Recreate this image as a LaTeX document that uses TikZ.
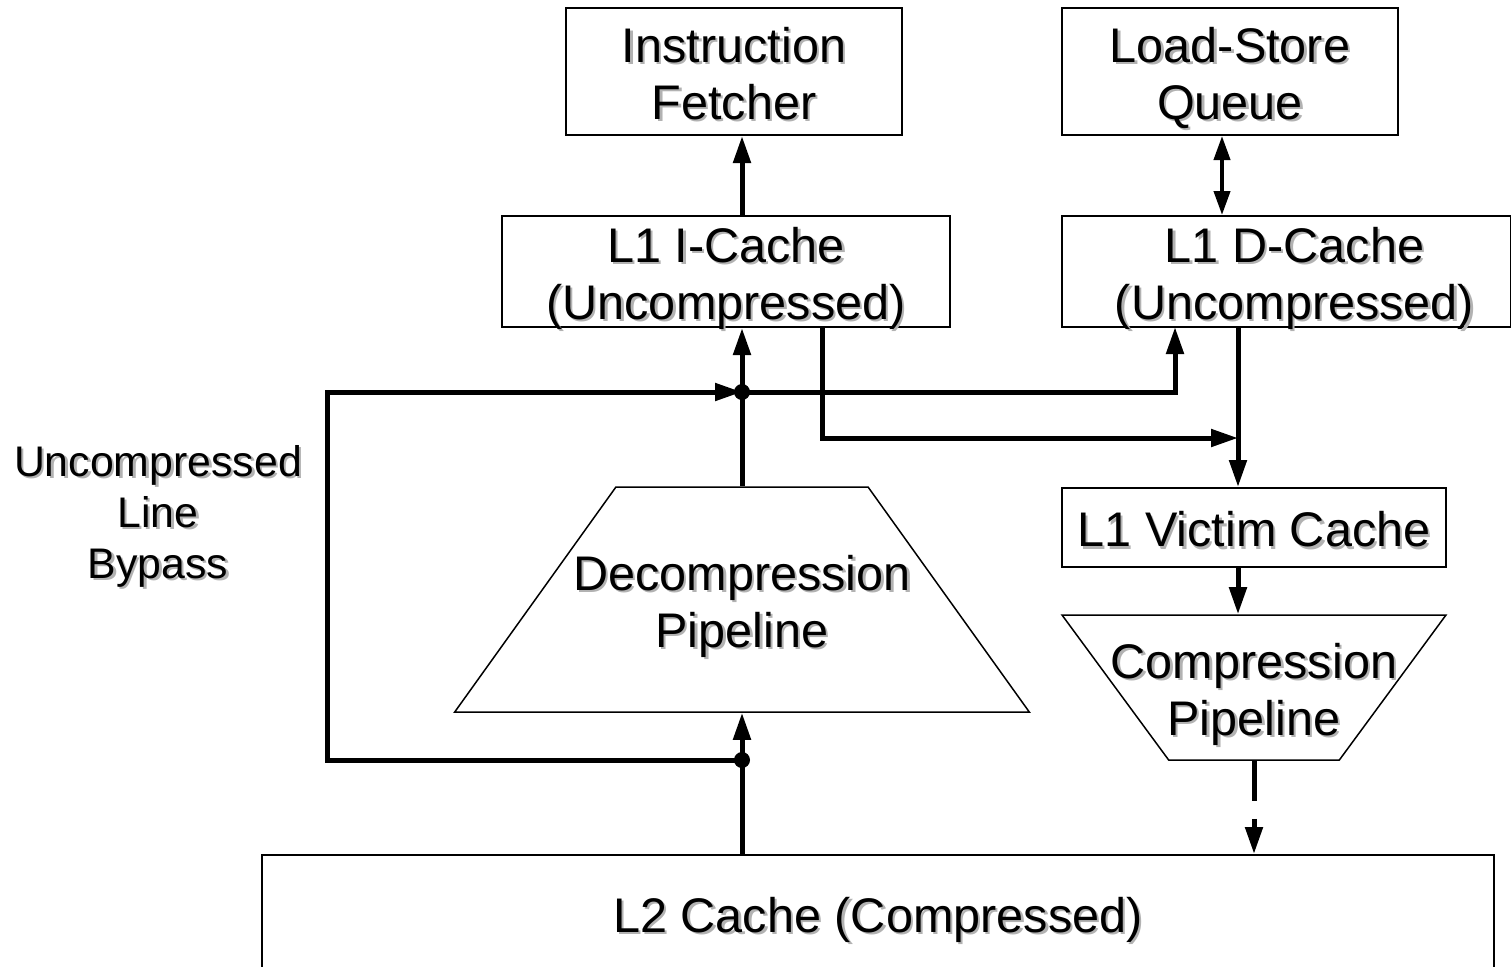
\documentclass[tikz,border=0pt]{standalone}
\usepackage{fontspec}
\setmainfont{Liberation Sans}
\usetikzlibrary{shapes.geometric,arrows.meta}
\newcommand{\shtext}[1]{\raisebox{-0.144em}[0.716em][0.21em]{\rlap{\kern1.2pt\raisebox{-1.2pt}{\color{black!30}#1}}#1}}

\begin{document}
\begin{tikzpicture}[x=0.5pt,y=-0.5pt,
    blk/.style={draw,line width=1pt,align=center,inner sep=0pt,font=\fontsize{24.3}{28.5}\selectfont},
    trap/.style={draw,line width=0.75pt,trapezium,trapezium stretches=true,inner sep=2pt},
    txt/.style={align=center,font=\fontsize{24.3}{28.5}\selectfont},
    bus/.style={line width=2.5pt,-{Triangle[length=13.5pt,width=8.5pt]}},
    dbl/.style={line width=2pt,{Triangle[length=12pt,width=8pt]}-{Triangle[length=12pt,width=8pt]}},
    dot/.style={circle,fill,inner sep=0pt,minimum size=8pt}]

    \useasboundingbox (0,0) rectangle (1511,966);

    \node[blk,minimum width=168pt,minimum height=63.5pt] (fetch) at (734,71.5) {\shtext{Instruction}\\\shtext{Fetcher}};
    \node[blk,minimum width=168pt,minimum height=63.5pt] (lsq) at (1230,71.5) {\shtext{Load-Store}\\\shtext{Queue}};
    \node[blk,minimum width=224pt,minimum height=55.5pt] (icache) at (726,271.5) {\shtext{L1 I-Cache}\\\shtext{(Uncompressed)}};
    \node[blk,minimum width=224.5pt,minimum height=55.5pt] (dcache) at (1286.5,271.5) {\shtext{\hspace{8pt}L1 D-Cache}\\\shtext{\hspace{8pt}(Uncompressed)}};
    \node[blk,minimum width=192pt,minimum height=39.5pt] (victim) at (1254,527.5) {\shtext{L1 Victim Cache}};
    \node[trap,trapezium angle=57.4,minimum width=287.5pt,minimum height=112.5pt,
          label={[txt]center:{\shtext{Decompression}\\\shtext{Pipeline}}}] (decomp) at (742,599.5) {};
    \node[trap,shape border rotate=180,trapezium angle=58,minimum width=192pt,minimum height=72.5pt,
          label={[txt]center:{\shtext{Compression}\\\shtext{Pipeline}}}] (comp) at (1254,687.5) {};
    \node[blk,minimum width=616pt,minimum height=58pt] (l2) at (878,913) {\shtext{L2 Cache (Compressed)}};
    \node[txt,font=\fontsize{21.4}{25.5}\selectfont] (bypasslbl) at (158,510) {\shtext{Uncompressed}\\\shtext{Line}\\\shtext{Bypass}};

    \coordinate (bypass) at (327,392);
    \coordinate (dIn) at (1175,327);
    \coordinate (dOut) at (1238,327);
    \coordinate (iOut) at (822,327);
    \coordinate (merge) at (1238,438);

    \draw [bus] (icache.north -| decomp.north) -- (fetch.south -| decomp.north);
    \draw [dbl] ([xshift=-4pt]lsq.south) -- ([xshift=-4pt]lsq.south |- dcache.north);
    \draw [bus] (decomp.north) -- (decomp.north |- icache.south);
    \draw [bus] (decomp.south |- l2.north) -- (decomp.south);
    \draw [bus] (742,760) -| (bypass) -- (742,392);
    \draw [bus] (742,392) -| (dIn);
    \draw [bus] (iOut) |- (merge);
    \draw [bus] (dOut) -- (dOut |- victim.north);
    \draw [bus] (dOut |- victim.south) -- (dOut |- comp.north);
    \draw [bus,dash pattern=on 20pt off 9pt] (comp.south) -- (comp.south |- l2.north);

    \node[dot] (jtop) at (742,392) {};
    \node[dot] (jbot) at (742,760) {};

\end{tikzpicture}
\end{document}
